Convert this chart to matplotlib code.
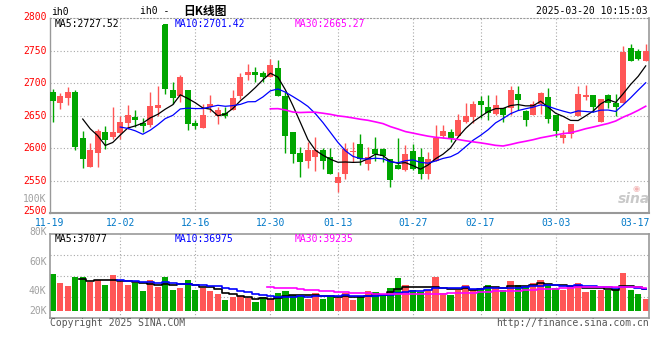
import matplotlib
matplotlib.use('Agg')
import matplotlib.pyplot as plt
import matplotlib.transforms as mtrans
from matplotlib.patches import Rectangle
import numpy as np
import pandas as pd

# ---------------- data ----------------
opens = [2687, 2669, 2677, 2687, 2615, 2571, 2593, 2625, 2617, 2623,
         2638, 2648, 2638, 2635, 2661, 2790, 2690, 2680, 2690, 2639,
         2631, 2664, 2650, 2654, 2658, 2680, 2713, 2717, 2715, 2709,
         2723, 2680, 2625, 2593, 2580, 2587, 2598, 2586, 2546, 2561,
         2594, 2607, 2576, 2599, 2599, 2584, 2574, 2566, 2595, 2587,
         2561, 2581, 2619, 2625, 2619, 2640, 2648, 2672, 2664, 2652,
         2661, 2661, 2684, 2657, 2650.5, 2668, 2678, 2650.5, 2616, 2622.5,
         2649.5, 2678.6, 2681, 2641, 2681, 2670, 2670, 2754, 2749, 2734.7]
highs = [2691, 2685, 2694, 2690, 2626, 2608, 2630, 2634, 2664, 2650,
         2666, 2658, 2646, 2687, 2695, 2790, 2701, 2712, 2690, 2644,
         2668, 2681, 2663, 2664, 2689, 2716, 2730, 2724, 2719, 2737,
         2735, 2687, 2625, 2602, 2609, 2617, 2601, 2600, 2564, 2608,
         2610, 2622, 2602, 2617, 2601, 2584, 2615, 2605, 2607, 2600,
         2594, 2635, 2635, 2630, 2652, 2670, 2673, 2680, 2681, 2681,
         2662, 2695.5, 2695.5, 2658.5, 2672, 2687, 2693, 2650.5, 2627.5, 2637,
         2695.5, 2696.4, 2681, 2675, 2684, 2684, 2757.7, 2760, 2752.6, 2760]
lows = [2640, 2660, 2667, 2598, 2570, 2571, 2571, 2599, 2614, 2614,
        2630, 2633, 2625, 2633, 2650, 2683, 2668, 2671, 2628, 2629,
        2631, 2656, 2637, 2647, 2658, 2676, 2704, 2701, 2701, 2709,
        2680, 2592, 2577, 2556, 2569, 2565, 2568, 2560, 2533, 2553,
        2579, 2574, 2566, 2581, 2579, 2541, 2568, 2565, 2566, 2553,
        2553, 2581, 2615, 2609, 2619, 2638, 2639, 2647, 2643, 2650.5,
        2641, 2650.5, 2658, 2634, 2650.5, 2653, 2638, 2617, 2608, 2616,
        2649.5, 2673.5, 2656, 2640, 2661, 2649.5, 2670, 2733.7, 2736, 2733.7]
closes = [2672, 2680, 2687, 2602, 2583, 2597, 2627, 2612, 2625, 2640,
          2651, 2643, 2634, 2665, 2667, 2691, 2677, 2710, 2637, 2634,
          2651, 2668, 2659, 2650, 2677, 2710, 2717, 2712, 2709, 2728,
          2680, 2619, 2591, 2579, 2597, 2598, 2581, 2560, 2556, 2599,
          2595, 2583, 2586, 2591, 2588, 2551, 2568, 2591, 2568, 2561,
          2583, 2616, 2626, 2616, 2644, 2649, 2668, 2666, 2654, 2667,
          2650.5, 2690, 2673.5, 2644, 2668, 2685, 2645.5, 2626, 2620, 2637,
          2684, 2681, 2663, 2675, 2670, 2663, 2747.4, 2734.7, 2737, 2750]
volumes_k = [62.9, 47.6, 42.5, 57.8, 57.8, 48.2, 52.2, 43.7, 60.7, 49.3,
             43.7, 46.5, 33.5, 52.2, 40.8, 57.8, 35.2, 39.1, 52.2, 35.2,
             39.1, 33.5, 28.4, 18.1, 23.2, 24.9, 21.0, 14.7, 23.2, 19.3,
             30.6, 33.5, 26.6, 24.9, 20.4, 30.6, 20.4, 24.9, 21.0, 30.6,
             18.1, 24.9, 33.5, 31.8, 28.4, 38.6, 55.6, 43.7, 35.2, 32.3,
             35.2, 57.3, 30.1, 26.6, 35.2, 43.7, 36.3, 38.6, 43.7, 38.6,
             35.2, 50.5, 43.7, 39.7, 47.1, 52.2, 45.4, 38.0, 35.2, 40.8,
             47.1, 31.8, 35.2, 35.2, 35.2, 37.4, 64.1, 35.2, 28.4, 19.8]

holidays = ['2025-01-01', '2025-01-28', '2025-01-29', '2025-01-30',
            '2025-01-31', '2025-02-03', '2025-02-04']
trade_days = pd.bdate_range('2024-11-19', '2025-03-19')
trade_days = trade_days[~trade_days.isin(pd.to_datetime(holidays))]
date_labels = trade_days.strftime('%m-%d').tolist()

tick_labels = ['11-19', '12-02', '12-16', '12-30', '01-13', '01-27',
               '02-17', '03-03', '03-17']
price_ticks = [2500, 2550, 2600, 2650, 2700, 2750, 2800]

main_ma_text = [('MA5:2727.52', '#000000'), ('MA10:2701.42', '#0000FF'),
                ('MA30:2665.27', '#FF00FF')]
vol_ma_text = [('MA5:37077', '#000000'), ('MA10:36975', '#0000FF'),
               ('MA30:39235', '#FF00FF')]
title_code = 'ih0'
timestamp = '2025-03-20 10:15:03'

# ---------------- figure ----------------
W, H = 660, 360
fig = plt.figure(figsize=(6.6, 3.6), dpi=100)
fig.patch.set_facecolor('white')
MONO = 'DejaVu Sans Mono'
FS = 7

def fx(px):
    return px / W

def fy(py):
    return 1 - py / H

RED, GREEN = '#FF5656', '#00A600'
GRID = '#A8A8A8'
BORDER = '#999999'
DOT = (0, (1, 2))

o = np.array(opens, float)
c = np.array(closes, float)
hi = np.array(highs, float)
lo = np.array(lows, float)
vol = np.array(volumes_k) * 1000.0
n = len(c)
xs = np.arange(n)
up = c >= o
cols = np.where(up, RED, GREEN)

L, R = 50, 649.3
xlim = (-0.36, n - 1 + 0.48)

# main panel
M_TOP, M_BOT = 18.0, 213.3
ax = fig.add_axes([fx(L), fy(M_BOT), fx(R) - fx(L), fy(M_TOP) - fy(M_BOT)])
ax.set_xlim(*xlim)
ax.set_ylim(price_ticks[0], price_ticks[-1])

tick_idx = [date_labels.index(t) for t in tick_labels]
for ti in tick_idx[1:-1]:
    ax.axvline(ti, color=GRID, lw=0.8, ls=DOT, zorder=0)
for yv in price_ticks[1:-1]:
    ax.axhline(yv, color=GRID, lw=0.8, ls=DOT, zorder=0)

ax.vlines(xs, lo, hi, colors=cols, lw=1.0, zorder=2)
body_h = np.maximum(np.abs(c - o), 1.2)
ax.bar(xs, body_h, bottom=np.minimum(o, c), width=0.8, color=cols,
       linewidth=0, zorder=3)

cs = pd.Series(c)
ax.plot(xs, cs.rolling(5).mean(), color='#000000', lw=0.9, zorder=4)
ax.plot(xs, cs.rolling(10).mean(), color='#0000FF', lw=0.9, zorder=4)
ax.plot(xs, cs.rolling(30).mean(), color='#FF00FF', lw=1.2, zorder=4)

# price labels (red), the bottom one nudged up a little as in the reference
ax.set_yticks([])
ax.set_xticks([])
for pv in price_ticks:
    py = M_BOT - (pv - price_ticks[0]) / (price_ticks[-1] - price_ticks[0]) * (M_BOT - M_TOP)
    if pv == price_ticks[0]:
        py -= 2.0
    elif pv == price_ticks[-1]:
        py -= 1.5
    fig.text(fx(46.5), fy(py), str(pv), ha='right', va='center', family=MONO,
             fontsize=FS, color='#FF0000')

for s in ['left', 'right', 'bottom']:
    ax.spines[s].set_color(BORDER)
ax.spines['left'].set_linewidth(1.0)
ax.spines['right'].set_linewidth(1.2)
ax.spines['bottom'].set_linewidth(1.5)
ax.spines['top'].set_color(BORDER)
ax.spines['top'].set_linestyle(DOT)
ax.spines['top'].set_linewidth(0.8)

# x labels
trans = mtrans.blended_transform_factory(ax.transData, ax.transAxes)
ylab = (M_BOT - 222.5) / (M_BOT - M_TOP)
for k, (lab, ti) in enumerate(zip(tick_labels, tick_idx)):
    if k == 0:
        xpos, ha = xlim[0], 'center'
    elif k == len(tick_labels) - 1:
        xpos, ha = xlim[1], 'right'
    else:
        xpos, ha = ti, 'center'
    ax.text(xpos, ylab, lab, transform=trans, ha=ha, va='center',
            family=MONO, fontsize=FS, color='#0078C8', clip_on=False)

# volume panel
V_TOP, V_BOT, V_BASE = 234.3, 317.7, 310.7
per_px = 1701.0
axv = fig.add_axes([fx(L), fy(V_BOT), fx(R) - fx(L), fy(V_TOP) - fy(V_BOT)])
axv.set_xlim(*xlim)
axv.set_ylim(-(V_BOT - V_BASE) * per_px, (V_BASE - V_TOP) * per_px)
for ti in tick_idx[1:-1]:
    axv.axvline(ti, color=GRID, lw=0.8, ls=DOT, zorder=0)
for f in [0.25, 0.5, 0.75]:
    axv.plot([0, 1], [f, f], transform=axv.transAxes, color=GRID, lw=0.8,
             ls=DOT, zorder=0)
axv.bar(xs, vol, width=0.84, color=cols, linewidth=0, zorder=2)
vs = pd.Series(vol)
axv.plot(xs, vs.rolling(5).mean(), color='#000000', lw=1.2,
         drawstyle='steps-mid', zorder=4)
axv.plot(xs, vs.rolling(10).mean(), color='#0000FF', lw=1.2,
         drawstyle='steps-mid', zorder=4)
axv.plot(xs, vs.rolling(30).mean(), color='#FF00FF', lw=1.2,
         drawstyle='steps-mid', zorder=4)
axv.set_xticks([])
axv.set_yticks([])
for s in axv.spines.values():
    s.set_color(BORDER)
    s.set_linewidth(1.2)

# volume axis labels (placed as in the reference)
for lab, py in [('100K', 199.5), ('80K', 231.5), ('60K', 262.0),
                ('40K', 291.0), ('20K', 311.0)]:
    fig.text(fx(46.5), fy(py), lab, ha='right', va='center', family=MONO,
             fontsize=FS, color='#A0A0A0')

# headers
fig.text(fx(51), fy(12), title_code, ha='left', va='center', family=MONO,
         fontsize=FS, color='#000000')
fig.text(fx(140), fy(11.5), title_code + ' -', ha='left', va='center',
         family=MONO, fontsize=FS, color='#000000')
fig.text(fx(183), fy(11.5), '日K线图', ha='left', va='center',
         family=['Noto Sans CJK SC', 'DejaVu Sans'], fontsize=8.5,
         fontweight='bold', color='#000000')
fig.text(fx(648), fy(11.5), timestamp, ha='right', va='center', family=MONO,
         fontsize=FS, color='#000000')
for (txt, col), px in zip(main_ma_text, [55, 175, 295]):
    fig.text(fx(px), fy(24), txt, ha='left', va='center', family=MONO,
             fontsize=FS, color=col)
for (txt, col), px in zip(vol_ma_text, [55, 175, 295]):
    fig.text(fx(px), fy(238.5), txt, ha='left', va='center', family=MONO,
             fontsize=FS, color=col)
fig.add_artist(Rectangle((fx(163), fy(28.5)), fx(5), 5 / H,
                         transform=fig.transFigure, color='#00A600', lw=0))

# footer
fig.text(fx(50), fy(323.5), 'Copyright 2025 SINA.COM', ha='left', va='center',
         family=MONO, fontsize=FS, color='#555555')
fig.text(fx(649), fy(323.5), 'http://finance.sina.com.cn', ha='right',
         va='center', family=MONO, fontsize=FS, color='#555555')

# sina watermark
fig.text(fx(634), fy(199), 'sina', ha='center', va='center', fontsize=10,
         fontstyle='italic', fontweight='bold', color='#C9C9C9')
fig.text(fx(636), fy(189), '◉', ha='center', va='center', fontsize=6,
         color='#F2B4B4', family='DejaVu Sans')

fig.savefig('out.png', dpi=100, facecolor='white')
